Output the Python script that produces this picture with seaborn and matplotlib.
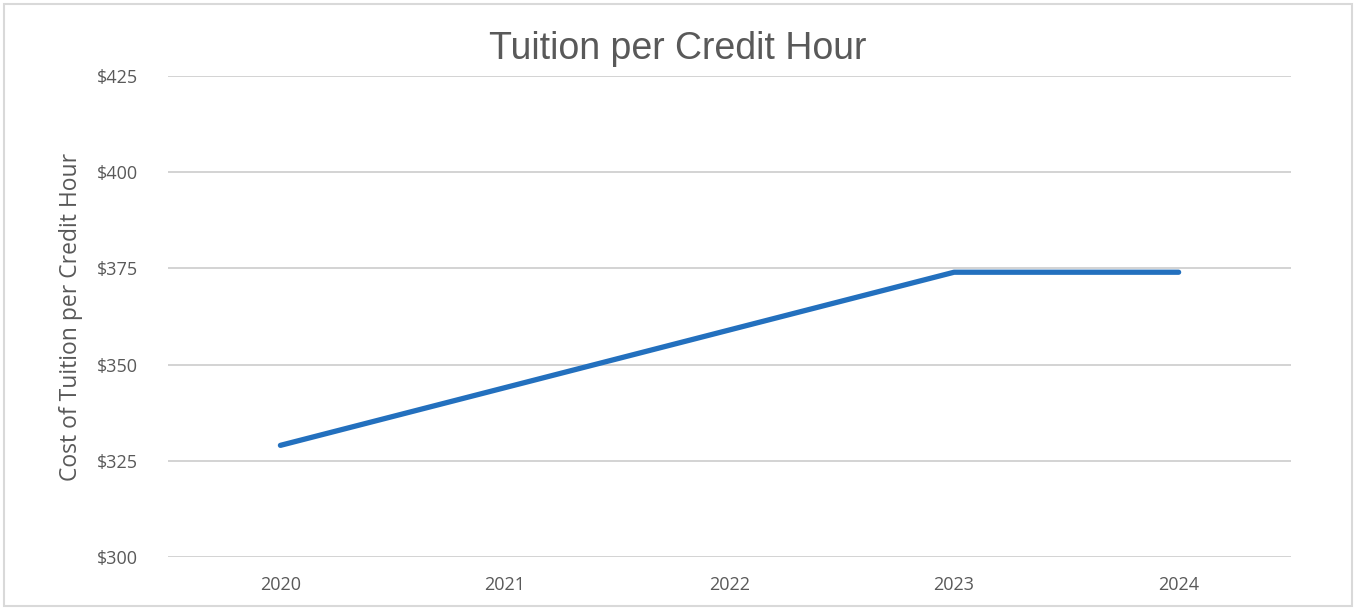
import pandas as pd
import matplotlib
matplotlib.use("Agg")
import matplotlib.pyplot as plt
import seaborn as sns
from matplotlib.patches import Rectangle

# tuition per credit hour
years = ["2020", "2021", "2022", "2023", "2024"]
cost = [329, 344, 359, 374, 374]
y_ticks = [300, 325, 350, 375, 400, 425]

df = pd.DataFrame({"Year": years, "Cost": cost})

sns.set_style("white")
plt.rcParams["font.family"] = ["Open Sans", "DejaVu Sans"]

fig = plt.figure(figsize=(13.56, 6.08), dpi=100)
ax = fig.add_axes([0.124, 0.084, 0.828, 0.791])

sns.lineplot(data=df, x="Year", y="Cost", ax=ax, color="#2370BE", linewidth=3.8, sort=False)

ax.set_xlim(-0.5, len(years) - 0.5)
ax.set_ylim(300, 425)
ax.set_yticks(y_ticks)
ax.set_yticklabels([f"${v}" for v in y_ticks])
ax.grid(axis="y", color="#D0D0D0", linewidth=1.3)
ax.set_axisbelow(True)
for s in ax.spines.values():
    s.set_visible(False)
ax.tick_params(axis="y", length=0, labelsize=13, labelcolor="#595959", pad=22)
ax.tick_params(axis="x", length=0, labelsize=13, labelcolor="#595959", pad=14)

ax.set_xlabel("")
ax.set_ylabel("Cost of Tuition per Credit Hour", fontsize=16.5, color="#595959", labelpad=10)
fig.text(0.5, 0.92, "Tuition per Credit Hour", ha="center", va="center",
         fontsize=27, color="#595959", family=["Liberation Sans", "DejaVu Sans"])

# light frame around the chart
fig.patches.append(Rectangle((0.003, 0.003), 0.994, 0.99, transform=fig.transFigure,
                             fill=False, edgecolor="#D9D9D9", linewidth=1.5))

fig.savefig("out.png", dpi=100)
